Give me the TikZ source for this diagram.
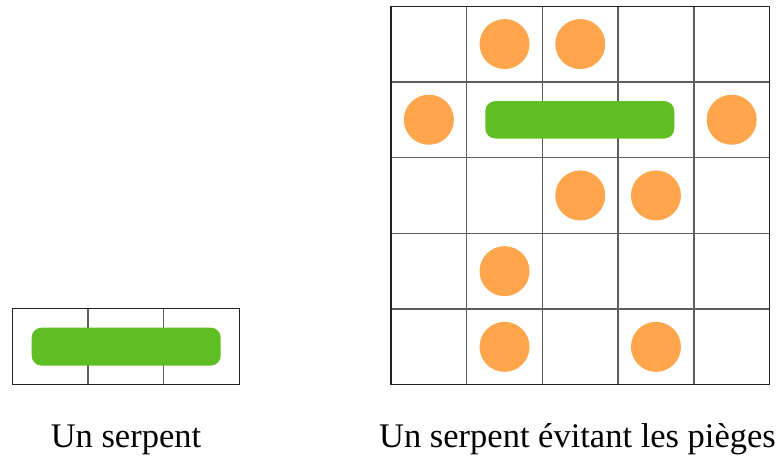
\documentclass[tikz,border=0pt]{standalone}
\usepackage{fontspec}
\setmainfont{Liberation Serif}
\definecolor{snakegreen}{HTML}{5FBF22}
\definecolor{trap}{HTML}{FFA64D}
\definecolor{gridgray}{HTML}{5E5E5E}
\definecolor{gridedge}{HTML}{222222}
\begin{document}
\begin{tikzpicture}[x=1pt,y=-1pt,
  gridline/.style={draw=gridgray,line width=1.4pt},
  gridframe/.style={draw=gridedge,line width=1.3pt},
  snake/.style={fill=snakegreen,rounded corners=10pt},
  trapdot/.style={fill=trap},
  caption/.style={anchor=base,inner sep=0pt,font=\fontsize{34.5}{40}\selectfont}]
\useasboundingbox (0,0) rectangle (784,459);
\def\c{75.7}
% left grid (1x3)
\begin{scope}[shift={(12.3,308.6)}]
  \foreach \i in {1,2} \draw[gridline] (\i*\c,0) -- (\i*\c,\c);
  \draw[gridframe] (0,0) rectangle (3*\c,\c);
  \fill[snake] (19.4,19) rectangle (208.4,57);
\end{scope}
% right grid (5x5)
\begin{scope}[shift={(391,6.2)}]
  \foreach \i in {1,...,4} {
    \draw[gridline] (\i*\c,0) -- (\i*\c,5*\c);
    \draw[gridline] (0,\i*\c) -- (5*\c,\i*\c);
  }
  \draw[gridframe] (0,0) rectangle (5*\c,5*\c);
  \foreach \col/\row in {1/0,2/0,0/1,4/1,2/2,3/2,1/3,1/4,3/4}
    \fill[trapdot] ({(\col+0.5)*\c},{(\row+0.5)*\c}) circle (25);
  \fill[snake] (94.3,94.9) rectangle (283.3,132.3);
\end{scope}
\node[caption] (capleft) at (126,447) {Un serpent};
\node[caption] (capright) at (577.5,447) {Un serpent évitant les pièges};
\end{tikzpicture}
\end{document}
